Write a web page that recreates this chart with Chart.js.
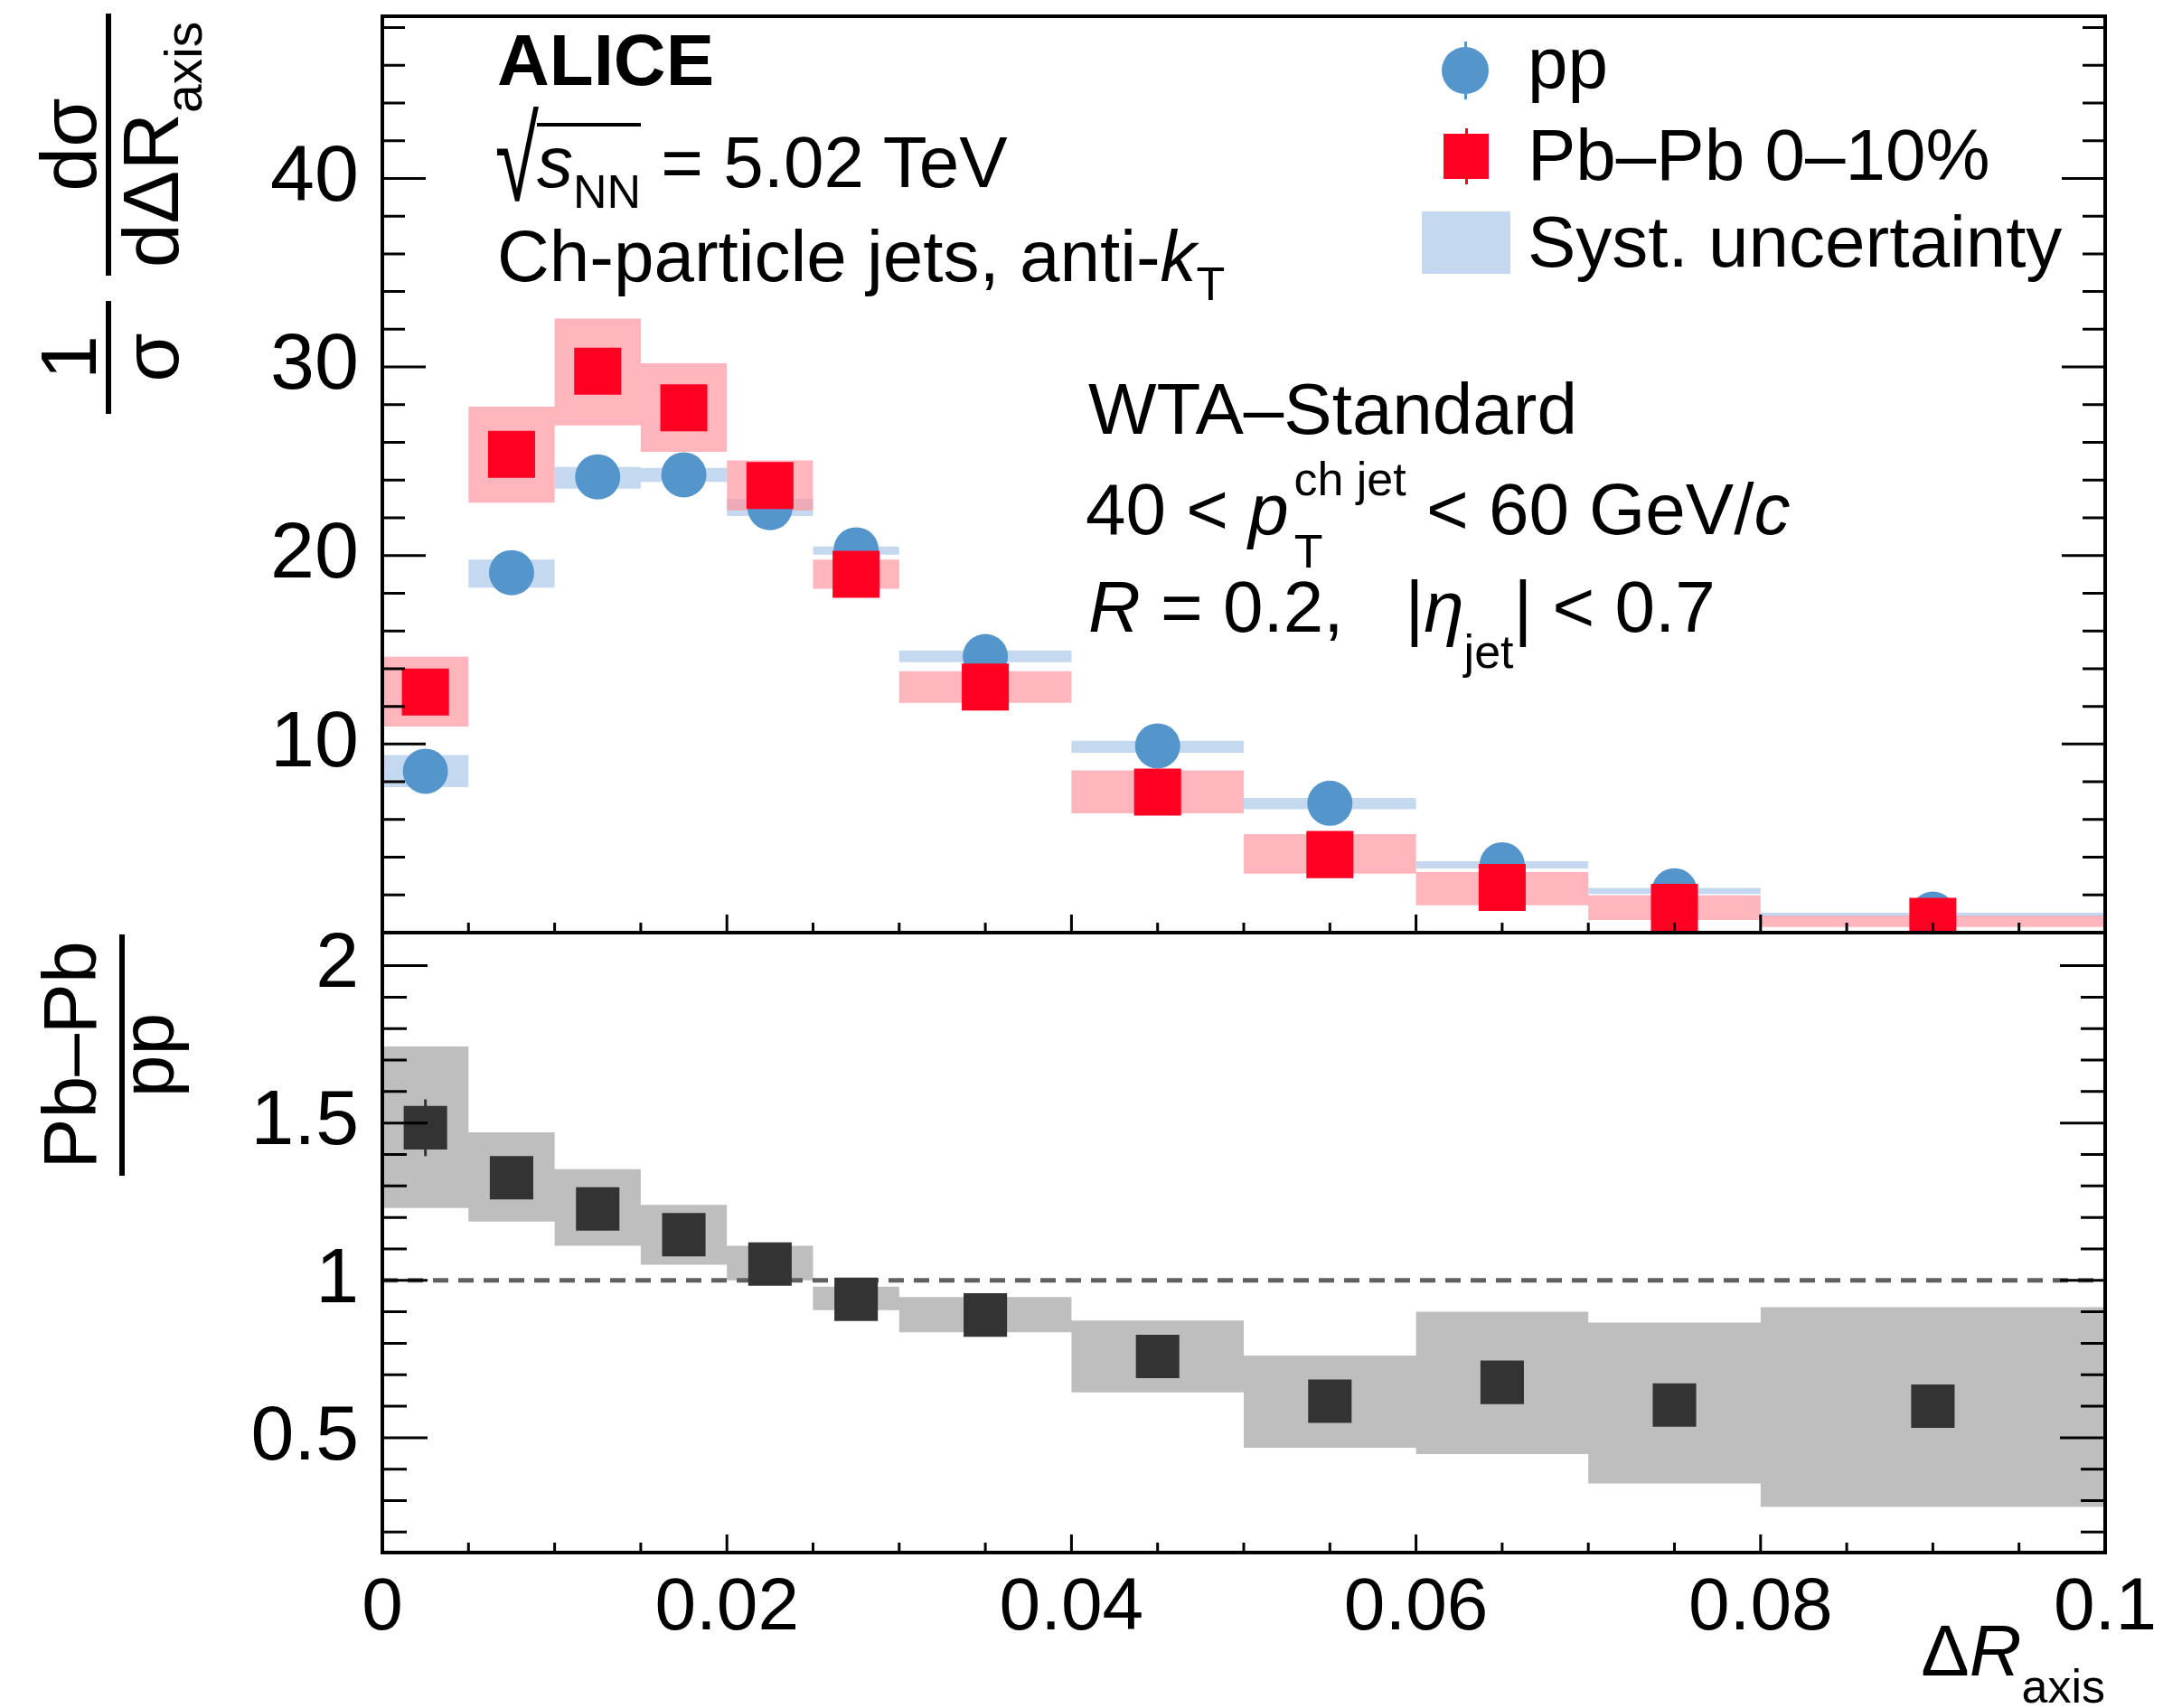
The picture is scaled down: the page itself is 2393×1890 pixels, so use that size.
<!DOCTYPE html>
<html>
<head>
<meta charset="utf-8">
<script src="https://cdn.jsdelivr.net/npm/chart.js@4.4.1/dist/chart.umd.min.js"></script>
<style>
  html, body { margin: 0; padding: 0; background: #fff; }
  #wrap { position: relative; width: 2393px; height: 1890px; overflow: hidden; background: #fff; }
  canvas { position: absolute; left: 0; }
  #cTop { top: 0; }
  #cBot { top: 1000px; }
  .t { position: absolute; font-family: 'Liberation Sans', Arial, Helvetica, sans-serif; line-height: 1; white-space: nowrap; color: #000; }
  .sub, .sup { position: relative; font-size: 52px; }
  .ovl { display: inline-block; border-top: 4px solid #000; line-height: 1; }
  .rad { display: inline-block; line-height: 1; transform-origin: 50% 0; transform: translateY(-28px) scale(1.1, 1.64); }
  .ytitle { transform-origin: 0 0; transform: rotate(-90deg); display: flex; align-items: flex-start; }
  .frac { display: flex; flex-direction: column; align-items: center; }
  .frac .num, .frac .den { line-height: 0.92; }
  .frac .bar { align-self: stretch; height: 6px; background: #000; }
  .mk { position: absolute; }
</style>
</head>
<body>
<div id="wrap">
  <canvas id="cTop" width="2393" height="1040"></canvas>
  <canvas id="cBot" width="2393" height="890"></canvas>

  <!-- y title, top panel -->
  <div class="t ytitle" style="left:36px; top:458px; font-size:88px;">
    <div class="frac" style="width:125px;">
      <div class="num">1</div><div class="bar"></div><div class="den" style="margin-top:4px;">σ</div>
    </div>
    <div class="frac" style="width:290px; margin-left:28px;">
      <div class="num">dσ</div><div class="bar"></div><div class="den" style="margin-top:4px;">dΔR<span class="sub" style="top:26px; font-size:57px;">axis</span></div>
    </div>
  </div>

  <!-- y title, ratio panel -->
  <div class="t ytitle" style="left:39px; top:1301px; font-size:84px;">
    <div class="frac" style="width:267px;">
      <div class="num" style="padding-bottom:16px;">Pb–Pb</div><div class="bar"></div><div class="den" style="margin-top:-13px;">pp</div>
    </div>
  </div>

  <!-- legend markers -->
  <div class="mk" style="left:1620px; top:46px; width:3px; height:64px; background:#5496CC;"></div>
  <div class="mk" style="left:1595px; top:52px; width:52px; height:52px; border-radius:50%; background:#5496CC;"></div>
  <div class="mk" style="left:1621px; top:142px; width:3px; height:62px; background:#FF0022;"></div>
  <div class="mk" style="left:1597px; top:148px; width:50px; height:50px; background:#FF0022;"></div>
  <div class="mk" style="left:1573px; top:234px; width:98px; height:69px; background:#C4D9EF;"></div>
</div>

<script>
// bins of Delta R_axis
const binEdges = [0, 0.005, 0.01, 0.015, 0.02, 0.025, 0.03, 0.04, 0.05, 0.06, 0.07, 0.08, 0.1];
const binCenters = [0.0025, 0.0075, 0.0125, 0.0175, 0.0225, 0.0275, 0.035, 0.045, 0.055, 0.065, 0.075, 0.09];

// pp
const ppValues   = [8.56, 19.09, 24.17, 24.28, 22.54, 20.3, 14.64, 9.9, 6.86, 3.6, 2.22, 0.98];
const ppStat     = [0.3, 0.4, 0.4, 0.4, 0.4, 0.35, 0.25, 0.2, 0.15, 0.1, 0.08, 0.05];
const ppSystLow  = [7.72, 18.3, 23.55, 23.9, 22.1, 20.05, 14.34, 9.54, 6.54, 3.4, 2.05, 0.86];
const ppSystHigh = [9.42, 19.78, 24.7, 24.65, 23.0, 20.48, 14.96, 10.17, 7.14, 3.79, 2.37, 1.05];

// Pb-Pb 0-10%
const pbValues   = [12.76, 25.37, 29.78, 27.83, 23.71, 19.0, 13.02, 7.45, 4.14, 2.4, 1.34, 0.6];
const pbStat     = [0.6, 0.7, 0.7, 0.7, 0.6, 0.5, 0.35, 0.3, 0.2, 0.15, 0.1, 0.08];
const pbSystLow  = [10.93, 22.8, 26.9, 25.5, 22.4, 18.24, 12.18, 6.33, 3.13, 1.45, 0.67, 0.3];
const pbSystHigh = [14.63, 27.9, 32.57, 30.2, 25.04, 19.78, 13.86, 8.6, 5.23, 3.21, 1.98, 0.9];

// ratio Pb-Pb / pp
const ratioValues   = [1.485, 1.326, 1.227, 1.145, 1.052, 0.94, 0.89, 0.758, 0.616, 0.676, 0.604, 0.60];
const ratioStat     = [0.09, 0.05, 0.04, 0.04, 0.04, 0.04, 0.03, 0.04, 0.05, 0.06, 0.06, 0.06];
const ratioSystLow  = [1.23, 1.187, 1.11, 1.05, 1.0, 0.905, 0.835, 0.644, 0.468, 0.448, 0.355, 0.28];
const ratioSystHigh = [1.743, 1.47, 1.353, 1.24, 1.11, 0.98, 0.947, 0.872, 0.761, 0.90, 0.866, 0.915];

// axes
const xTickValues = [0, 0.02, 0.04, 0.06, 0.08, 0.1];
const xTickLabels = ['0', '0.02', '0.04', '0.06', '0.08', '0.1'];
const yTopTickValues = [10, 20, 30, 40];
const yTopTickLabels = ['10', '20', '30', '40'];
const yBotTickValues = [0.5, 1, 1.5, 2];
const yBotTickLabels = ['0.5', '1', '1.5', '2'];

const ppColor = '#5496CC';
const ppSystColor = '#C4D9EF';
const pbColor = '#FF0022';
const pbSystColor = 'rgba(255,150,160,0.7)';
const ratioColor = '#333333';
const ratioSystColor = '#BEBEBE';
const FONT = "'Liberation Sans', Arial, Helvetica, sans-serif";

// closed outline of the syst boxes (adjacent bins), filled as one shape
function bandPolygon(lo, hi) {
  const pts = [];
  for (let i = 0; i < hi.length; i++) {
    pts.push({ x: binEdges[i], y: hi[i] }, { x: binEdges[i + 1], y: hi[i] });
  }
  for (let i = lo.length - 1; i >= 0; i--) {
    pts.push({ x: binEdges[i + 1], y: lo[i] }, { x: binEdges[i], y: lo[i] });
  }
  return pts;
}
function errorSegments(vals, errs) {
  const pts = [];
  vals.forEach((v, i) => {
    pts.push({ x: binCenters[i], y: v - errs[i] }, { x: binCenters[i], y: v + errs[i] }, { x: binCenters[i], y: null });
  });
  return pts;
}
const asPoints = (vals) => vals.map((v, i) => ({ x: binCenters[i], y: v }));

function bandDs(lo, hi, color, order) {
  return { type: 'line', data: bandPolygon(lo, hi), fill: 'shape', backgroundColor: color,
    borderColor: 'rgba(0,0,0,0)', borderWidth: 0, pointRadius: 0, tension: 0, order: order, clip: 0 };
}
function errDs(vals, errs, color, order) {
  return { type: 'line', data: errorSegments(vals, errs), borderColor: color, borderWidth: 3,
    pointRadius: 0, fill: false, spanGaps: false, order: order, clip: 0 };
}
function markDs(vals, style, radius, color, order) {
  return { type: 'scatter', data: asPoints(vals), pointStyle: style, pointRadius: radius,
    pointBackgroundColor: color, pointBorderWidth: 0, pointBorderColor: color, order: order, clip: 0 };
}

// ROOT-like frame with inward ticks
const framePlugin = {
  id: 'rootFrame',
  afterDatasetsDraw(chart, args, o) {
    const { ctx, chartArea: a, scales } = chart;
    const xs = scales.x, ys = scales.y;
    ctx.save();
    ctx.strokeStyle = '#000';
    ctx.lineWidth = 3;
    ctx.beginPath();
    for (let k = 0; ; k++) {
      const v = o.yStart + k * o.yMinor;
      if (v > ys.max) break;
      const py = ys.getPixelForValue(v);
      if (py > a.bottom - 3 || py < a.top + 3) continue;
      const major = Math.abs(v / o.yMajor - Math.round(v / o.yMajor)) < 1e-6;
      const len = major ? o.yMajorLen : o.yMinorLen;
      ctx.moveTo(a.left, py); ctx.lineTo(a.left + len, py);
      ctx.moveTo(a.right, py); ctx.lineTo(a.right - len, py);
    }
    for (let k = 1; k < 20; k++) {
      const v = k * 0.005;
      const px = xs.getPixelForValue(v);
      const major = k % 4 === 0;
      const len = major ? 20 : 11;
      ctx.moveTo(px, a.bottom); ctx.lineTo(px, a.bottom - len);
    }
    ctx.stroke();
    ctx.lineWidth = 4;
    ctx.strokeRect(a.left, a.top, a.right - a.left, a.bottom - a.top);
    ctx.restore();
  }
};

const common = {
  responsive: false,
  animation: false,
  events: [],
};

function yAxis(min, max, vals, labels, size) {
  return {
    type: 'linear', min: min, max: max,
    afterBuildTicks: (s) => { s.ticks = vals.map(v => ({ value: v })); },
    ticks: { callback: (v, i) => labels[i], font: { family: FONT, size: size }, color: '#000', padding: 26, autoSkip: false },
    grid: { display: false, drawTicks: false },
    border: { display: false },
    afterFit: (s) => { s.width = 423; s.paddingTop = 0; s.paddingBottom = 0; }
  };
}

new Chart(document.getElementById('cTop'), {
  type: 'scatter',
  data: {
    datasets: [
      bandDs(ppSystLow, ppSystHigh, ppSystColor, 5),
      bandDs(pbSystLow, pbSystHigh, pbSystColor, 4),
      errDs(ppValues, ppStat, ppColor, 3),
      markDs(ppValues, 'circle', 25, ppColor, 2),
      errDs(pbValues, pbStat, pbColor, 1),
      markDs(pbValues, 'rect', 36.8, pbColor, 0)
    ]
  },
  options: Object.assign({}, common, {
    layout: { autoPadding: false, padding: { top: 18, right: 64, bottom: 8, left: 0 } },
    scales: {
      x: { type: 'linear', min: 0, max: 0.1, display: false },
      y: yAxis(0, 48.6, yTopTickValues, yTopTickLabels, 88)
    },
    plugins: {
      legend: { display: false }, tooltip: { enabled: false },
      rootFrame: { yStart: 0, yMinor: 2, yMajor: 10, yMajorLen: 48, yMinorLen: 25 }
    }
  }),
  plugins: [framePlugin]
});

new Chart(document.getElementById('cBot'), {
  type: 'scatter',
  data: {
    datasets: [
      bandDs(ratioSystLow, ratioSystHigh, ratioSystColor, 3),
      { type: 'line', data: [{ x: 0, y: 1 }, { x: 0.1, y: 1 }], borderColor: '#606060', borderWidth: 5,
        borderDash: [17, 11], pointRadius: 0, fill: false, order: 2 },
      errDs(ratioValues, ratioStat, ratioColor, 1),
      markDs(ratioValues, 'rect', 34, ratioColor, 0)
    ]
  },
  options: Object.assign({}, common, {
    layout: { autoPadding: false, padding: { top: 32, right: 64, bottom: 0, left: 0 } },
    scales: {
      x: {
        type: 'linear', min: 0, max: 0.1,
        afterBuildTicks: (s) => { s.ticks = xTickValues.map(v => ({ value: v })); },
        ticks: { callback: (v, i) => xTickLabels[i], font: { family: FONT, size: 82 }, color: '#000',
          padding: 13, autoSkip: false, maxRotation: 0 },
        grid: { display: false, drawTicks: false },
        border: { display: false },
        afterFit: (s) => { s.height = 172; s.paddingLeft = 0; s.paddingRight = 0; }
      },
      y: yAxis(0.135, 2.105, yBotTickValues, yBotTickLabels, 86)
    },
    plugins: {
      legend: { display: false }, tooltip: { enabled: false },
      rootFrame: { yStart: 0.2, yMinor: 0.1, yMajor: 0.5, yMajorLen: 50, yMinorLen: 27 }
    }
  }),
  plugins: [framePlugin]
});

// text labels, placed by baseline
const wrap = document.getElementById('wrap');
function addText(html, x, base, size, right) {
  const d = document.createElement('div');
  d.className = 't';
  d.style.fontSize = size + 'px';
  d.style.top = (base - 0.8465 * size).toFixed(1) + 'px';
  if (right) d.style.right = (2393 - x) + 'px'; else d.style.left = x + 'px';
  d.innerHTML = html;
  wrap.appendChild(d);
}
addText('<b>ALICE</b>', 550, 95, 80);
addText('<span class="rad">√</span><span class="ovl"><i>s</i><span class="sub" style="top:23px">NN</span></span> = 5.02 TeV', 550, 204, 80);
addText('Ch-particle jets, anti-<i>k</i><span class="sub" style="top:21px">T</span>', 550, 312, 80);
addText('pp', 1690, 98, 80);
addText('Pb–Pb 0–10%', 1690, 200, 80);
addText('Syst. uncertainty', 1690, 296, 80);
addText('WTA–Standard', 1204, 481, 80);
addText('40 &lt; <i>p</i><span class="sub" style="top:37px; margin-left:6px">T</span><span class="sup" style="top:-43px; margin-left:-32px">ch jet</span> &lt; 60 GeV/<i>c</i>', 1201, 592, 80);
addText('<i>R</i> = 0.2,<span style="margin-left:68px">|</span><i>η</i><span class="sub" style="top:40px">jet</span>| &lt; 0.7', 1204, 700, 80);
addText('Δ<i>R</i><span class="sub" style="top:30px">axis</span>', 2329, 1855, 80, true);
</script>
</body>
</html>
